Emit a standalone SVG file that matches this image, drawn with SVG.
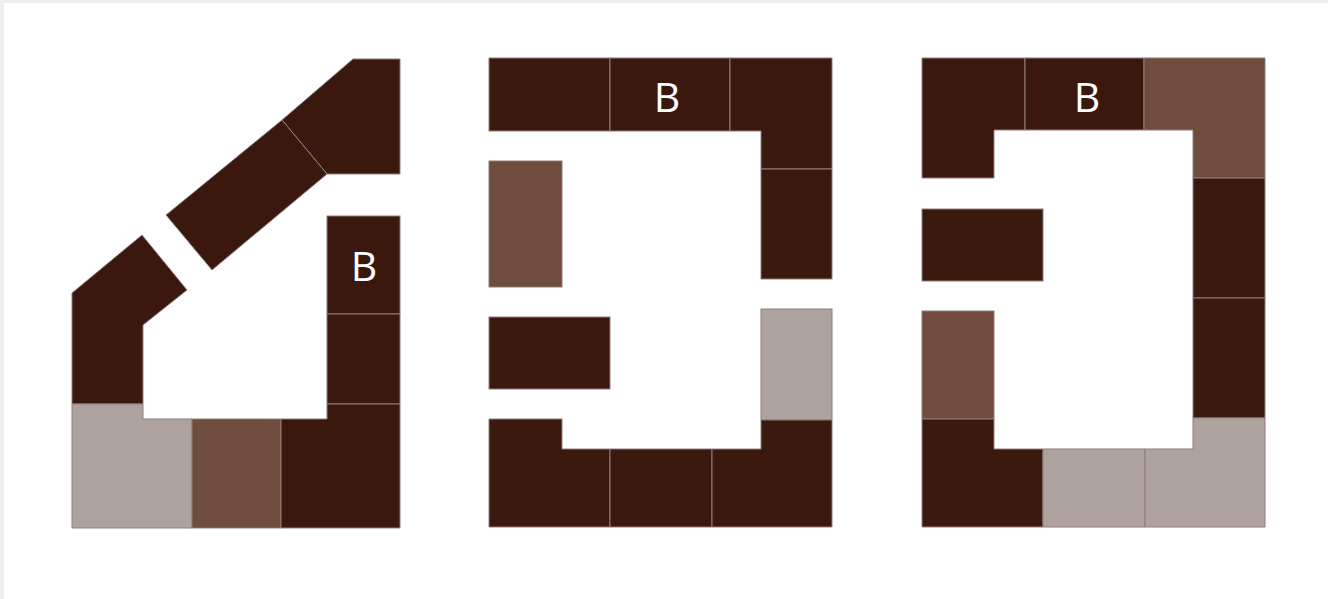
<svg xmlns="http://www.w3.org/2000/svg" width="1328" height="599" viewBox="0 0 1328 599">
<style>
.d{fill:#3a180e;stroke:#8e7f7a;stroke-width:1}
.m{fill:#6f4c3e;stroke:#8e7f7a;stroke-width:1}
.l{fill:#aea29e;stroke:#8e7f7a;stroke-width:1}
.t{font-family:"Open Sans","DejaVu Sans",sans-serif;font-size:41px;fill:#ffffff;text-anchor:middle}
</style>
<rect width="1328" height="599" fill="#eeeeee"/>
<rect x="4" y="3" width="1324" height="596" fill="#ffffff"/>
<g id="plan-left">
<polygon class="d" points="353,59 400,59 400,174 327,174 282,120"/>
<polygon class="d" points="166,215 282,120 327,174 212,270"/>
<polygon class="d" points="142,235 187,290 143,325 143,404 72,404 72,293"/>
<rect class="d" x="327" y="216" width="73" height="98"/>
<text class="t" x="364" y="281">B</text>
<rect class="d" x="327" y="314" width="73" height="90"/>
<polygon class="l" points="72,404 143,404 143,419 192,419 192,528 72,528"/>
<rect class="m" x="192" y="419" width="89" height="109"/>
<polygon class="d" points="281,419 327,419 327,404 400,404 400,528 281,528"/>
</g>
<g id="plan-middle">
<rect class="d" x="489" y="58" width="121" height="73"/>
<rect class="d" x="610" y="58" width="120" height="73"/>
<text class="t" x="667" y="112">B</text>
<polygon class="d" points="730,58 832,58 832,169 761,169 761,131 730,131"/>
<rect class="d" x="761" y="169" width="71" height="110"/>
<rect class="m" x="489" y="161" width="73" height="126"/>
<rect class="d" x="489" y="317" width="121" height="72"/>
<rect class="l" x="761" y="309" width="71" height="111"/>
<polygon class="d" points="489,419 562,419 562,449 610,449 610,527 489,527"/>
<rect class="d" x="610" y="449" width="102" height="78"/>
<polygon class="d" points="712,449 761,449 761,420 832,420 832,527 712,527"/>
</g>
<g id="plan-right">
<polygon class="d" points="922,58 1025,58 1025,130 994,130 994,178 922,178"/>
<rect class="d" x="1025" y="58" width="119" height="72"/>
<text class="t" x="1087" y="112">B</text>
<polygon class="m" points="1144,58 1265,58 1265,178 1193,178 1193,130 1144,130"/>
<rect class="d" x="1193" y="178" width="72" height="120"/>
<rect class="d" x="1193" y="298" width="72" height="120"/>
<rect class="d" x="922" y="209" width="121" height="72"/>
<rect class="m" x="922" y="311" width="72" height="108"/>
<polygon class="d" points="922,419 994,419 994,449 1043,449 1043,527 922,527"/>
<rect class="l" x="1043" y="449" width="102" height="78"/>
<polygon class="l" points="1145,449 1193,449 1193,418 1265,418 1265,527 1145,527"/>
</g>
</svg>
